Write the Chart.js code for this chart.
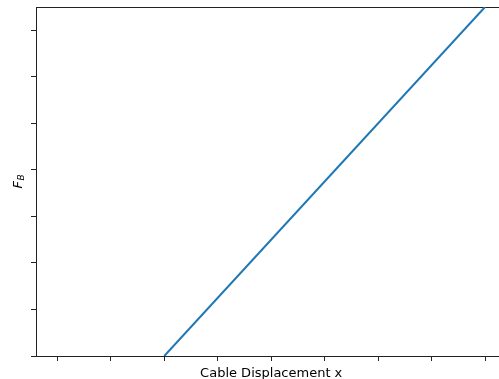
<!DOCTYPE html>
<html>
<head>
<meta charset="utf-8">
<script src="https://cdn.jsdelivr.net/npm/chart.js@4"></script>
<style>
  html, body { margin: 0; padding: 0; overflow: hidden; background: #fff; }
  #wrap { width: 520px; height: 379px; }
</style>
</head>
<body>
<div id="wrap"><canvas id="c" width="520" height="379"></canvas></div>
<script>
// Force on B against cable displacement
const displacement = [2, 8];
const forceB = [0, 7.5];

// Axis ticks (unlabelled) and limits
const xTicks = [0, 1, 2, 3, 4, 5, 6, 7, 8];
const yTicks = [0, 1, 2, 3, 4, 5, 6, 7];
const xLimits = [-0.4, 8.4];
const yLimits = [0, 7.5];

const xTitle = 'Cable Displacement x';
const yTitleMain = 'F';
const yTitleSub = 'B';

const SPINE = '#222';
const FONT = "'DejaVu Sans', 'Liberation Sans', sans-serif";

const points = displacement.map((x, i) => ({ x: x, y: forceB[i] }));

// Axis titles: plain x label, and F with a subscript B on the y side
const titlePlugin = {
  id: 'axisTitles',
  afterDraw(chart) {
    const ctx = chart.ctx;
    const area = chart.chartArea;
    ctx.save();
    ctx.fillStyle = '#000';
    ctx.font = '13px ' + FONT;
    ctx.textAlign = 'center';
    ctx.textBaseline = 'alphabetic';
    ctx.fillText(xTitle, (area.left + area.right) / 2, 377);

    ctx.translate(22, (area.top + area.bottom) / 2);
    ctx.rotate(-Math.PI / 2);
    ctx.textAlign = 'left';
    ctx.font = 'italic 13px ' + FONT;
    const wMain = ctx.measureText(yTitleMain).width;
    ctx.font = 'italic 9px ' + FONT;
    const wSub = ctx.measureText(yTitleSub).width;
    const start = -(wMain + wSub + 0.5) / 2;
    ctx.font = 'italic 13px ' + FONT;
    ctx.fillText(yTitleMain, start, 0);
    ctx.font = 'italic 9px ' + FONT;
    ctx.fillText(yTitleSub, start + wMain + 0.5, 2);
    ctx.restore();
  }
};

const tickGrid = {
  drawOnChartArea: false,
  drawTicks: true,
  tickLength: 5,
  color: SPINE,
  lineWidth: 1
};

new Chart(document.getElementById('c'), {
  type: 'line',
  data: {
    datasets: [{
      data: points,
      borderColor: '#1f77b4',
      borderWidth: 2,
      pointRadius: 0,
      fill: false,
      tension: 0
    }]
  },
  options: {
    responsive: false,
    animation: false,
    devicePixelRatio: 1,
    layout: { padding: { top: 7, right: 13.6, left: 0, bottom: 0 } },
    plugins: { legend: { display: false }, tooltip: { enabled: false } },
    scales: {
      x: {
        type: 'linear',
        position: 'bottom',
        min: xLimits[0],
        max: xLimits[1],
        afterBuildTicks(scale) { scale.ticks = xTicks.map(v => ({ value: v })); },
        afterFit(scale) { scale.height = 23; },
        ticks: { display: false },
        grid: tickGrid,
        border: { display: true, color: SPINE, width: 1 }
      },
      xTop: {
        type: 'linear',
        position: 'top',
        min: xLimits[0],
        max: xLimits[1],
        afterFit(scale) { scale.height = 0; },
        ticks: { display: false },
        grid: { drawOnChartArea: false, drawTicks: false },
        border: { display: true, color: SPINE, width: 1 }
      },
      y: {
        type: 'linear',
        position: 'left',
        min: yLimits[0],
        max: yLimits[1],
        afterBuildTicks(scale) { scale.ticks = yTicks.map(v => ({ value: v })); },
        afterFit(scale) { scale.width = 36; },
        ticks: { display: false },
        grid: tickGrid,
        border: { display: true, color: SPINE, width: 1 }
      }
    }
  },
  plugins: [titlePlugin]
});
</script>
</body>
</html>
